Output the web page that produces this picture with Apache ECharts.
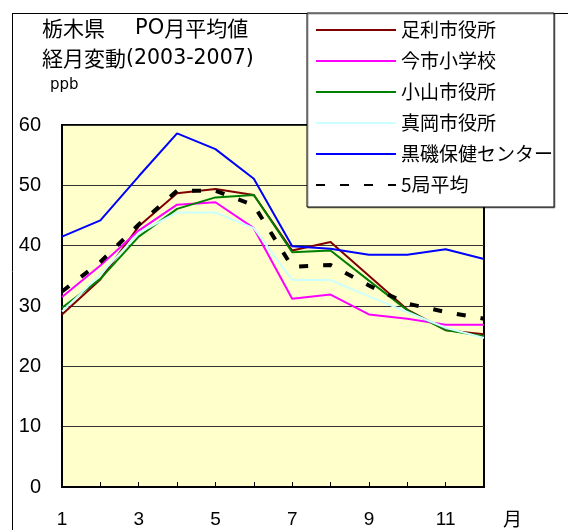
<!DOCTYPE html>
<html>
<head>
<meta charset="utf-8">
<script src="https://cdn.jsdelivr.net/npm/echarts@6/dist/echarts.min.js"></script>
<style>
html,body{margin:0;padding:0;background:#fff;}
#chart{width:568px;height:530px;}
</style>
</head>
<body>
<div id="chart"></div>
<script>
const months = ['1','2','3','4','5','6','7','8','9','10','11','12'];
const ashikaga = [28.6, 34.4, 43.2, 48.7, 49.4, 48.4, 39.2, 40.6, 35.0, 29.4, 26.0, 25.3];
const imaichi  = [31.5, 36.7, 42.5, 46.8, 47.2, 42.9, 31.2, 31.9, 28.6, 27.9, 26.9, 26.9];
const oyama    = [29.7, 34.5, 41.5, 46.1, 48.0, 48.4, 38.9, 39.2, 34.2, 29.3, 26.0, 25.0];
const moka     = [29.1, 35.2, 42.1, 45.5, 45.5, 42.9, 34.3, 34.3, 31.6, 29.0, 26.4, 24.7];
const kuroiso  = [41.5, 44.2, 51.5, 58.6, 56.0, 51.1, 39.9, 39.5, 38.5, 38.5, 39.4, 37.8];
const average  = [32.4, 37.3, 43.5, 49.1, 49.1, 46.7, 36.5, 36.8, 33.4, 30.4, 29.0, 27.9];
const seriesNames = ['足利市役所','今市小学校','小山市役所','真岡市役所','黒磯保健センター','5局平均'];
const yTicks = {min: 0, max: 60, interval: 10};

const FONT = '"Noto Sans CJK JP", sans-serif';
const LATIN = '"DejaVu Sans", sans-serif';
const chart = echarts.init(document.getElementById('chart'), null, {renderer: 'canvas'});

function lineSeries(name, data, color, width, dash) {
  return {
    name: name, type: 'line', data: data, symbol: 'none', smooth: false,
    lineStyle: {color: color, width: width, type: dash || 'solid'},
    itemStyle: {color: color},
    emphasis: {disabled: true}, animation: false
  };
}

chart.setOption({
  animation: false,
  backgroundColor: '#ffffff',
  grid: {left: 62, right: 84, top: 125, bottom: 43, show: true,
         backgroundColor: '#FFFFCC', borderColor: '#000', borderWidth: 2},
  xAxis: {
    type: 'category', data: months, boundaryGap: false,
    axisLine: {show: true, lineStyle: {color: '#000', width: 2}},
    axisTick: {show: true, inside: true, length: 5, interval: 0, lineStyle: {color: '#000'}},
    axisLabel: {interval: 1, color: '#000', fontSize: 19, fontFamily: 'Liberation Sans, Arial', margin: 23},
    splitLine: {show: false}
  },
  yAxis: {
    type: 'value', min: yTicks.min, max: yTicks.max, interval: yTicks.interval,
    axisLine: {show: true, lineStyle: {color: '#000', width: 2}},
    axisTick: {show: false},
    axisLabel: {color: '#000', fontSize: 20, fontFamily: 'Liberation Sans, Arial', margin: 21},
    splitLine: {show: true, lineStyle: {color: '#333', width: 1}}
  },
  legend: {
    orient: 'vertical', left: 307, top: 13,
    backgroundColor: '#fff', borderColor: '#000', borderWidth: 1,
    shadowColor: 'rgba(0,0,0,0.35)', shadowOffsetX: 1, shadowOffsetY: 1, shadowBlur: 0,
    padding: [7, 1, 12, 8],
    itemWidth: 80, itemHeight: 14, itemGap: 11,
    itemStyle: {opacity: 0},
    textStyle: {color: '#000', fontSize: 19, fontFamily: FONT, lineHeight: 20},
    data: seriesNames, selectedMode: false
  },
  series: [
    lineSeries(seriesNames[0], ashikaga, '#800000', 2),
    lineSeries(seriesNames[1], imaichi, '#FF00FF', 2),
    lineSeries(seriesNames[2], oyama, '#008000', 2),
    lineSeries(seriesNames[3], moka, '#CCFFFF', 2),
    lineSeries(seriesNames[4], kuroiso, '#0000FF', 2),
    lineSeries(seriesNames[5], average, '#000000', 4, [9, 15])
  ],
  graphic: [
    {type: 'line', shape: {x1: 12.5, y1: 13, x2: 12.5, y2: 530}, style: {stroke: '#000', lineWidth: 1}, z: 0},
    {type: 'line', shape: {x1: 12, y1: 13.5, x2: 568, y2: 13.5}, style: {stroke: '#000', lineWidth: 1}, z: 0},
    {type: 'text', left: 42, top: 18, style: {text: '栃木県', font: '21px ' + FONT, fill: '#000'}},
    {type: 'text', left: 135, top: 18, style: {
      text: '{l|PO}{c|月平均値}',
      rich: {l: {fontFamily: LATIN, fontSize: 21, fill: '#000'}, c: {fontFamily: FONT, fontSize: 21, fill: '#000'}}
    }},
    {type: 'text', left: 42, top: 48, style: {
      text: '{c|経月変動}{l|(2003-2007)}',
      rich: {l: {fontFamily: LATIN, fontSize: 20.5, fill: '#000'}, c: {fontFamily: FONT, fontSize: 21, fill: '#000'}}
    }},
    {type: 'text', left: 50, top: 78, style: {text: 'ppb', font: '15px ' + LATIN, fill: '#000'}},
    {type: 'text', left: 503, top: 509, style: {text: '月', font: '19px ' + FONT, fill: '#000'}}
  ]
});
</script>
</body>
</html>
